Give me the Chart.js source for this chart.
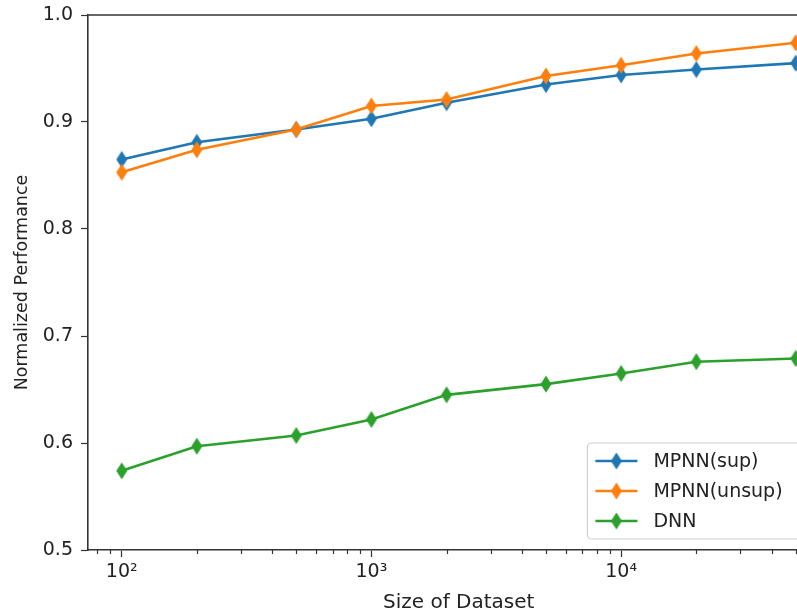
<!DOCTYPE html>
<html>
<head>
<meta charset="utf-8">
<script src="https://cdn.jsdelivr.net/npm/chart.js@4/dist/chart.umd.min.js"></script>
<style>
  html, body { margin: 0; padding: 0; background: #fff; overflow: hidden; }
  #wrap { width: 840px; height: 615px; }
</style>
</head>
<body>
<div id="wrap"><canvas id="perf-chart" width="840" height="615"></canvas></div>
<script>
const datasetSizes = [100, 200, 500, 1000, 2000, 5000, 10000, 20000, 50000]
const mpnnSup = [0.865, 0.881, 0.893, 0.903, 0.918, 0.935, 0.944, 0.949, 0.955]
const mpnnUnsup = [0.853, 0.874, 0.893, 0.915, 0.921, 0.943, 0.953, 0.964, 0.974]
const dnn = [0.574, 0.597, 0.607, 0.622, 0.645, 0.655, 0.665, 0.676, 0.679]
const seriesNames = ['MPNN(sup)', 'MPNN(unsup)', 'DNN']
const seriesColors = ['#1f77b4', '#ff7f0e', '#2ca02c']
const xMajorTicks = [100, 1000, 10000]
const xMinorTicks = [80, 90, 200, 300, 400, 500, 600, 700, 800, 900,
  2000, 3000, 4000, 5000, 6000, 7000, 8000, 9000, 20000, 30000, 40000, 50000, 60000]
const yTicks = [0.5, 0.6, 0.7, 0.8, 0.9, 1.0]

const FONT = 'DejaVu Sans'
const AXIS = '#333'
const sup = { 2: '\u00b2', 3: '\u00b3', 4: '\u2074' }

// thin matplotlib-like 'd' marker
const thinDiamond = (color) => {
  const c = document.createElement('canvas')
  c.width = 12; c.height = 18
  const g = c.getContext('2d')
  g.fillStyle = color
  g.beginPath()
  g.moveTo(6, 0.5); g.lineTo(11.5, 9); g.lineTo(6, 17.5); g.lineTo(0.5, 9)
  g.closePath(); g.fill()
  return c
}

const makeSeries = (values, i) => ({
  label: seriesNames[i],
  data: datasetSizes.map((x, k) => ({ x: x, y: values[k] })),
  borderColor: seriesColors[i],
  backgroundColor: seriesColors[i],
  borderWidth: 2.6,
  pointStyle: thinDiamond(seriesColors[i]),
  pointRadius: 8,
  tension: 0,
  fill: false,
  order: 3 - i
})

const minorTicks = {
  id: 'minorTicks',
  afterDraw(chart) {
    const ctx = chart.ctx, xs = chart.scales.x, bottom = chart.chartArea.bottom
    ctx.save()
    ctx.strokeStyle = AXIS
    ctx.lineWidth = 1.2
    xMinorTicks.forEach(v => {
      const px = Math.round(xs.getPixelForValue(v)) + 0.5
      ctx.beginPath(); ctx.moveTo(px, bottom); ctx.lineTo(px, bottom + 4); ctx.stroke()
    })
    // top spine
    ctx.lineWidth = 1.6
    ctx.beginPath()
    ctx.moveTo(chart.chartArea.left, chart.chartArea.top)
    ctx.lineTo(chart.chartArea.right, chart.chartArea.top)
    ctx.stroke()
    ctx.restore()
  }
}

const boxLegend = {
  id: 'boxLegend',
  afterDraw(chart) {
    const ctx = chart.ctx, area = chart.chartArea
    const w = 232, h = 96
    const left = area.right - 10 - w, top = area.bottom - 11 - h
    ctx.save()
    ctx.fillStyle = 'rgba(255,255,255,0.85)'
    ctx.strokeStyle = '#d0d0d0'
    ctx.lineWidth = 1.2
    ctx.beginPath()
    ctx.roundRect(left, top, w, h, 4)
    ctx.fill(); ctx.stroke()
    ctx.font = '19px "' + FONT + '"'
    ctx.textBaseline = 'middle'
    chart.data.datasets.forEach((ds, i) => {
      const cy = top + 18 + i * 30
      ctx.strokeStyle = ds.borderColor
      ctx.lineWidth = 2.6
      ctx.beginPath(); ctx.moveTo(left + 8, cy); ctx.lineTo(left + 50, cy); ctx.stroke()
      ctx.drawImage(ds.pointStyle, left + 29 - 6, cy - 9)
      ctx.fillStyle = '#222'
      ctx.fillText(ds.label, left + 66, cy + 1)
    })
    ctx.restore()
  }
}

new Chart(document.getElementById('perf-chart'), {
  type: 'line',
  data: { datasets: [makeSeries(mpnnSup, 0), makeSeries(mpnnUnsup, 1), makeSeries(dnn, 2)] },
  options: {
    responsive: false,
    animation: false,
    layout: { padding: { top: 15, right: 6, left: 0, bottom: 0 } },
    plugins: { legend: { display: false }, tooltip: { enabled: false } },
    scales: {
      x: {
        type: 'logarithmic',
        min: 73.3,
        max: 68200,
        afterBuildTicks: (scale) => { scale.ticks = xMajorTicks.map(v => ({ value: v, major: true })) },
        afterFit: (scale) => { scale.height = 65 },
        border: { color: AXIS, width: 1.6 },
        grid: { drawOnChartArea: false, tickLength: 7, tickColor: AXIS, tickWidth: 1.2 },
        ticks: {
          color: '#222', font: { family: FONT, size: 19 }, padding: 4, maxRotation: 0,
          callback: (v) => '10' + sup[Math.round(Math.log10(v))]
        },
        title: { display: true, text: 'Size of Dataset', color: '#222', font: { family: FONT, size: 20 }, padding: { top: 0, bottom: 0 } }
      },
      y: {
        min: 0.5,
        max: 1.0,
        afterBuildTicks: (scale) => { scale.ticks = yTicks.map(v => ({ value: v })) },
        afterFit: (scale) => { scale.width = 88; scale.paddingTop = 0; scale.paddingBottom = 0 },
        border: { color: AXIS, width: 1.6 },
        grid: { drawOnChartArea: false, tickLength: 7, tickColor: AXIS, tickWidth: 1.2 },
        ticks: {
          color: '#222', font: { family: FONT, size: 19 }, padding: 8,
          callback: (v) => Number(v).toFixed(1)
        },
        title: { display: true, text: 'Normalized Performance', color: '#222', font: { family: FONT, size: 17.5 }, padding: { top: 12, bottom: 0 } }
      }
    }
  },
  plugins: [minorTicks, boxLegend]
})
</script>
</body>
</html>
